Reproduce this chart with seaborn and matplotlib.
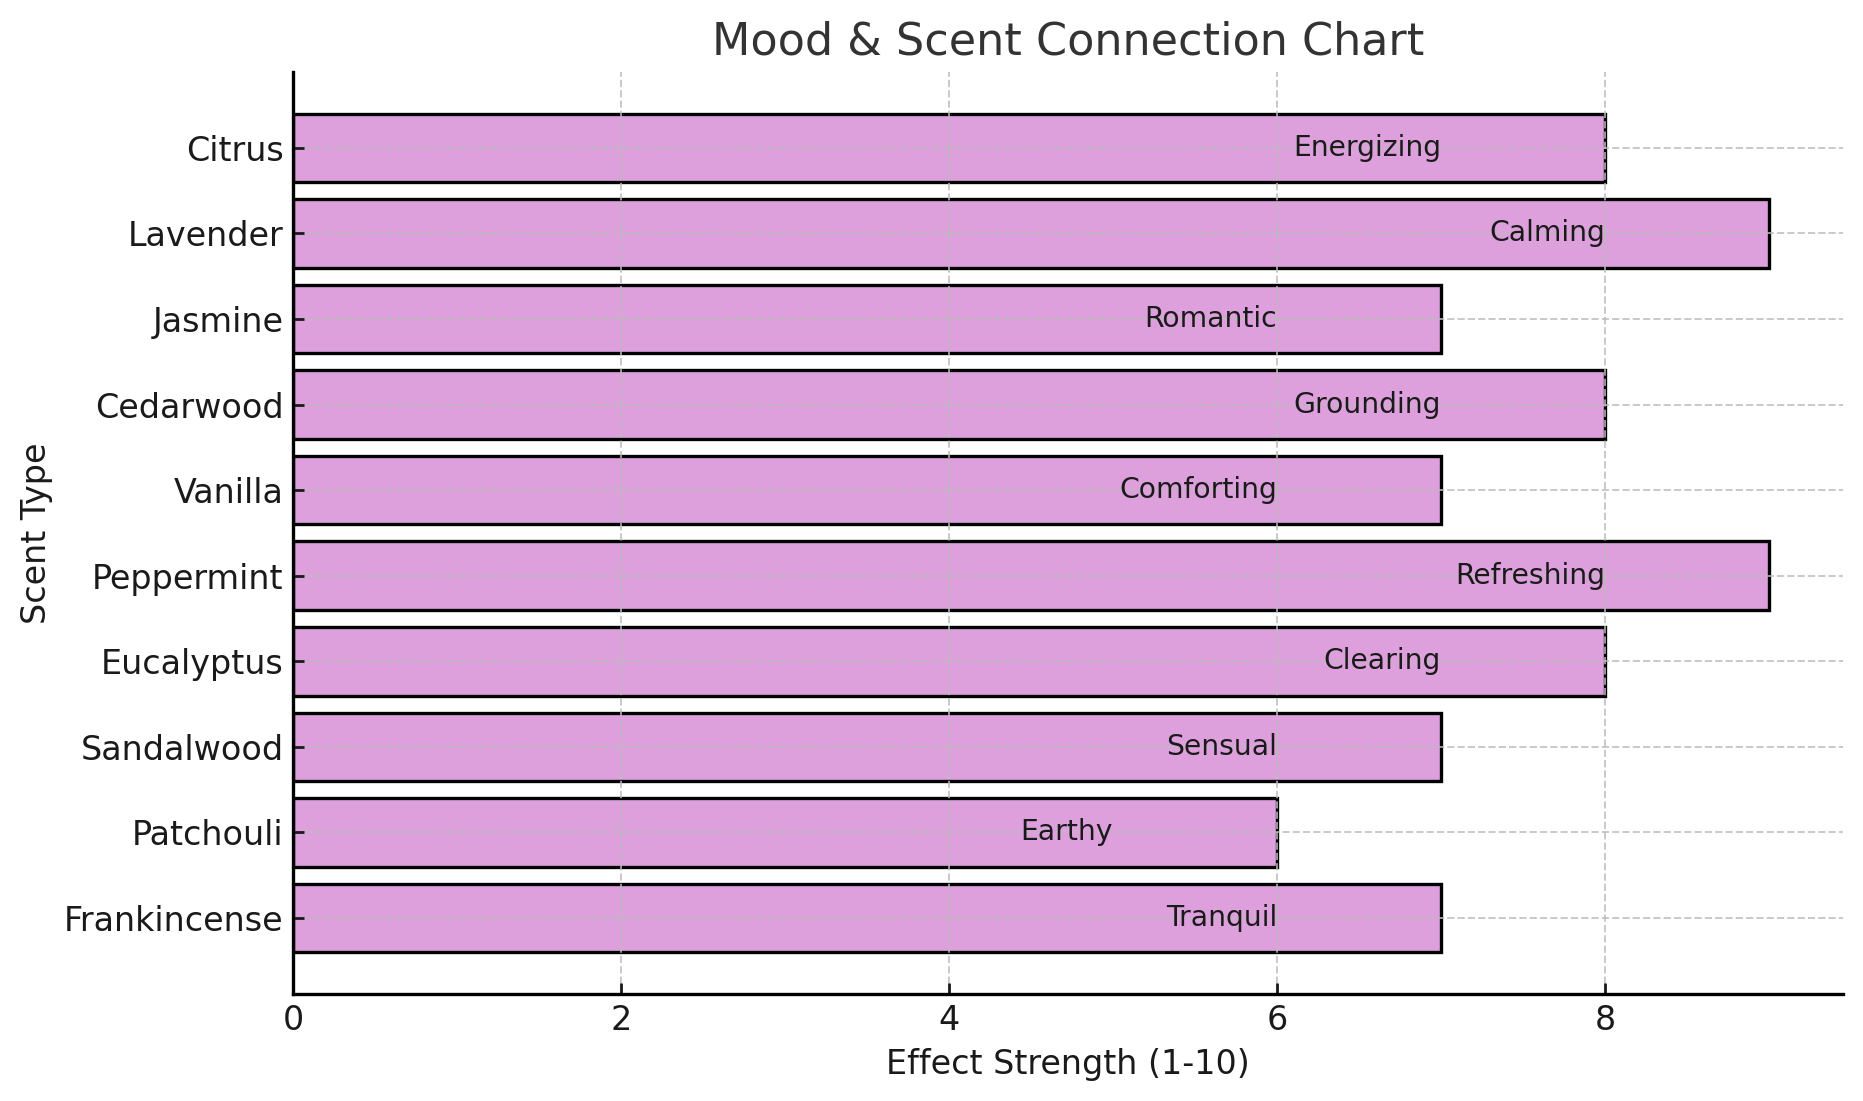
import matplotlib
matplotlib.use("Agg")
import matplotlib.pyplot as plt
import seaborn as sns
import pandas as pd

scents = ["Citrus", "Lavender", "Jasmine", "Cedarwood", "Vanilla",
          "Peppermint", "Eucalyptus", "Sandalwood", "Patchouli", "Frankincense"]
strengths = [8, 9, 7, 8, 7, 9, 8, 7, 6, 7]
moods = ["Energizing", "Calming", "Romantic", "Grounding", "Comforting",
         "Refreshing", "Clearing", "Sensual", "Earthy", "Tranquil"]

df = pd.DataFrame({"Scent": scents, "Strength": strengths, "Mood": moods})

sns.set_theme(style="ticks")
plt.rcParams['font.family'] = ['DejaVu Sans']

fig = plt.figure(figsize=(9.315, 5.505), dpi=200)
ax = fig.add_axes([0.1575, 0.097, 0.8315, 0.838])

sns.barplot(data=df, x="Strength", y="Scent", order=scents, orient="h",
            color="#DDA0DD", saturation=1, edgecolor="black", linewidth=1.2,
            width=0.8, ax=ax)

for i, (v, m) in enumerate(zip(strengths, moods)):
    ax.text(v - 1, i, m, ha="right", va="center", fontsize=10.2, color="#1a1a1a")

ax.set_xlim(0, 9.45)
ax.set_ylim(len(scents) - 1 + 0.89, -0.89)
ax.set_xticks([0, 2, 4, 6, 8])
ax.set_axisbelow(False)
ax.grid(True, linestyle="--", color="#bbbbbb", linewidth=0.7, alpha=0.8)

ax.set_title("Mood & Scent Connection Chart", fontsize=16, color="#333333", pad=6)
ax.set_xlabel("Effect Strength (1-10)", fontsize=12, color="#1a1a1a")
ax.set_ylabel("Scent Type", fontsize=12, color="#1a1a1a")
ax.tick_params(axis="both", direction="in", labelsize=12, colors="#1a1a1a", length=4, width=1)
sns.despine(ax=ax)
for s in ["left", "bottom"]:
    ax.spines[s].set_color("black")
    ax.spines[s].set_linewidth(1.2)
    ax.spines[s].set_zorder(4)

fig.savefig("out.png", dpi=200)
